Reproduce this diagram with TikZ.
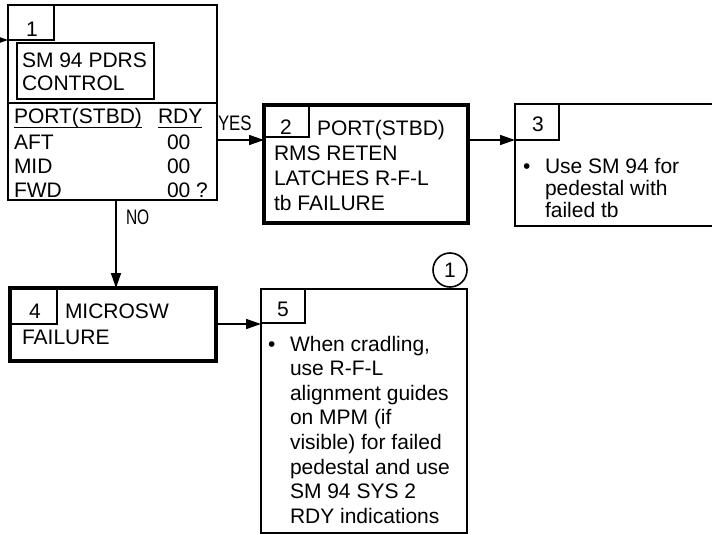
\documentclass[tikz,border=0pt]{standalone}
\usepackage{fontspec}
\setmainfont{Liberation Sans}
\usepackage{graphicx}
\usetikzlibrary{arrows.meta}
\begin{document}
\begin{tikzpicture}[x=1pt,y=-1pt,
  txt/.style={inner sep=0pt,outer sep=0pt,anchor=base west,font=\fontsize{21}{25}\selectfont},
  num/.style={inner sep=0pt,outer sep=0pt,anchor=base,font=\fontsize{21}{25}\selectfont},
  lbl/.style={inner sep=0pt,outer sep=0pt,anchor=base west,font=\fontsize{21}{25}\selectfont},
  box/.style={draw,line width=2pt,inner sep=0pt,outer sep=0pt,anchor=north west},
  thickbox/.style={draw,line width=4.3pt,inner sep=0pt,outer sep=0pt,anchor=north west},
  cell/.style={line width=1.6pt},
  uline/.style={line width=1.5pt},
  arr/.style={line width=1.5pt,-{Triangle[length=15pt,width=10pt]}}]
\useasboundingbox (0,0) rectangle (712,535);
\clip (0,0) rectangle (712,535);

% boxes
\node[box,minimum width=209pt,minimum height=195pt] (b1) at (8,5) {};
\node[thickbox,minimum width=204pt,minimum height=118pt] (b2) at (264,105) {};
\node[box,minimum width=201pt,minimum height=122pt] (b3) at (515,104) {};
\node[thickbox,minimum width=206pt,minimum height=73pt] (b4) at (10,288) {};
\node[box,minimum width=206pt,minimum height=244pt] (b5) at (261,289) {};

% number cells
\draw[cell] (b1.north west) rectangle ++(46,35);
\draw[cell] (b2.north west) rectangle ++(45,32);
\draw[cell] (b3.north west) rectangle ++(44,36);
\draw[cell] (b4.north west) rectangle ++(47,36);
\draw[cell] (b5.north west) rectangle ++(44,34);

% box 1 contents
\node[num] (n1) at (32,37) {1};
\draw[cell] (17,43) rectangle (154,99);
\node[txt] (t1a) at (22,67) {SM 94 PDRS};
\node[txt] (t1b) at (22,91) {CONTROL};
\draw[line width=2pt] (b1.west |- 0,103) -- (b1.east |- 0,103);
\node[txt] (hp) at (14,123) {PORT(STBD)};
\node[txt] (hr) at (158,123) {RDY};
\draw[uline] ([yshift=-4.5pt]hp.base west) -- ([yshift=-4.5pt]hp.base east);
\draw[uline] ([yshift=-4.5pt]hr.base west) -- ([yshift=-4.5pt]hr.base east);
\node[txt] (ra) at (14,149) {AFT};
\node[txt] (rm) at (14,173) {MID};
\node[txt] (rf) at (14,197) {FWD};
\node[txt] (va) at (167,149) {00};
\node[txt] (vm) at (167,173) {00};
\node[txt] (vf) at (167,197) {00 ?};

% box 2 contents
\node[num] (n2) at (286,134) {2};
\node[txt] (t2a) at (317,135) {PORT(STBD)};
\node[txt] (t2b) at (274,160) {RMS RETEN};
\node[txt] (t2c) at (274,185) {LATCHES R-F-L};
\node[txt] (t2d) at (274,210) {tb FAILURE};

% box 3 contents
\node[num] (n3) at (538,131) {3};
\node[txt] (bul3) at (523,173) {•};
\node[txt] (t3a) at (545,173) {Use SM 94 for};
\node[txt] (t3b) at (545,195) {pedestal with};
\node[txt] (t3c) at (545,217) {failed tb};

% box 4 contents
\node[num] (n4) at (35,318) {4};
\node[txt] (t4a) at (65,318) {MICROSW};
\node[txt] (t4b) at (22,344) {FAILURE};

% box 5 contents
\node[num] (n5) at (283,316) {5};
\node[txt] (bul5) at (268,351) {•};
\node[txt] (t5a) at (290,351) {When cradling,};
\node[txt] (t5b) at (290,375.6) {use R-F-L};
\node[txt] (t5c) at (290,400.2) {alignment guides};
\node[txt] (t5d) at (290,424.8) {on MPM (if};
\node[txt] (t5e) at (290,449.4) {visible) for failed};
\node[txt] (t5f) at (290,474) {pedestal and use};
\node[txt] (t5g) at (290,498.6) {SM 94 SYS 2};
\node[txt] (t5h) at (290,523.2) {RDY indications};

% circled note
\node[draw,circle,line width=1.6pt,minimum size=34pt,inner sep=0pt,font=\fontsize{21}{25}\selectfont] (c1) at (450,270) {1};

% connectors
\coordinate (in0) at (0,40);
\coordinate (yA) at (0,140);
\coordinate (yB) at (0,324);
\coordinate (xN) at (116,0);
\draw[arr] (in0) -- (b1.west |- in0);
\draw[arr] (b1.east |- yA) -- (b2.west |- yA);
\draw[arr] (b2.east |- yA) -- (b3.west |- yA);
\draw[arr] (b1.south -| xN) -- (b4.north -| xN);
\draw[arr] (b4.east |- yB) -- (b5.west |- yB);

% labels
\node[lbl] (yes) at (218,130) {\scalebox{0.8}[1]{YES}};
\node[lbl] (no) at (126,224) {\scalebox{0.74}[1]{NO}};
\end{tikzpicture}
\end{document}
